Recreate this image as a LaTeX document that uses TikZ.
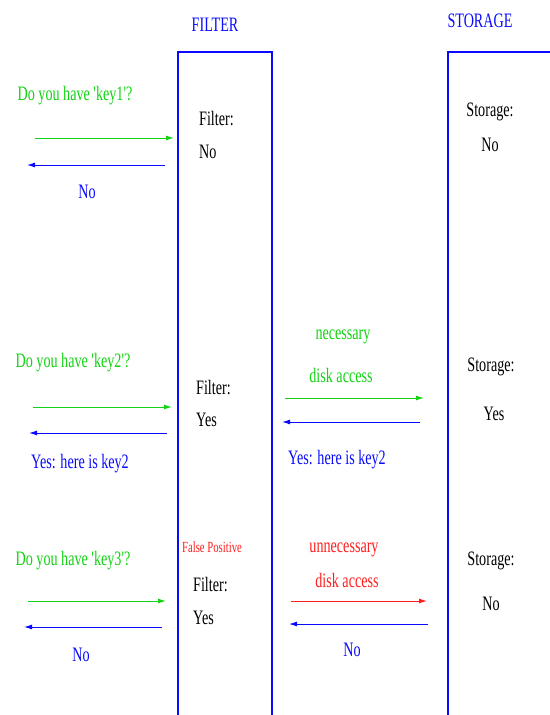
\documentclass[tikz,border=0pt]{standalone}
\usepackage{fontspec}
\setmainfont[FakeStretch=0.69, Ligatures=TeXOff]{Liberation Serif}
\usetikzlibrary{arrows.meta}
\definecolor{cgreen}{RGB}{20,210,20}
\definecolor{cblue}{RGB}{10,10,255}
\definecolor{cred}{RGB}{255,30,30}
\tikzset{
  txt/.style={inner sep=0pt, yshift=-2pt, font=\fontsize{20.5}{20.5}\selectfont},
  gtxt/.style={txt, text=cgreen},
  btxt/.style={txt, text=cblue},
  rtxt/.style={txt, text=cred},
  ktxt/.style={txt, text=black},
  col/.style={draw=cblue, line width=2.4pt},
  msg/.style={line width=1pt, -{Latex[length=8pt,width=5pt]}},
}
\begin{document}
\begin{tikzpicture}[x=1pt,y=-1pt]
\useasboundingbox (0,0) rectangle (549,715);
% columns
\draw[col] (178,716) -- (178,52) -- (272,52) -- (272,716);
\draw[col] (448,716) -- (448,52) -- (550,52);
\node[btxt] (hf) at (215,23) {FILTER};
\node[btxt] (hs) at (480,19) {STORAGE};

% row 1
\node[gtxt] (q1) at (75,94) {Do you have 'key1'?};
\coordinate (q1a) at (35,138); \coordinate (q1b) at (174,138);
\draw[msg, cgreen] (q1a) -- (q1b);
\coordinate (r1a) at (165,165); \coordinate (r1b) at (27,165);
\draw[msg, cblue] (r1a) -- (r1b);
\node[btxt] (n1) at (87,190) {No};
\node[ktxt, anchor=west] (f1) at (199,117) {Filter:};
\node[ktxt, anchor=west] (f1v) at (199,150) {No};
\node[ktxt] (s1) at (490,110) {Storage:};
\node[ktxt] (s1v) at (490,143) {No};

% row 2
\node[gtxt] (q2) at (73,361) {Do you have 'key2'?};
\coordinate (q2a) at (33,407); \coordinate (q2b) at (172,407);
\draw[msg, cgreen] (q2a) -- (q2b);
\coordinate (r2a) at (167,433); \coordinate (r2b) at (29,433);
\draw[msg, cblue] (r2a) -- (r2b);
\node[btxt] (y2) at (80,462) {Yes: here is key2};
\node[ktxt, anchor=west] (f2) at (196,386) {Filter:};
\node[ktxt, anchor=west] (f2v) at (196,418) {Yes};
\node[gtxt] (nd) at (343,335) {necessary};
\node[gtxt] (nd2) at (341,373) {disk access};
\coordinate (d2a) at (285,398); \coordinate (d2b) at (424,398);
\draw[msg, cgreen] (d2a) -- (d2b);
\coordinate (e2a) at (420,422); \coordinate (e2b) at (282,422);
\draw[msg, cblue] (e2a) -- (e2b);
\node[btxt] (y2b) at (337,458) {Yes: here is key2};
\node[ktxt] (s2) at (491,365) {Storage:};
\node[ktxt] (s2v) at (494,412) {Yes};

% row 3
\node[rtxt, font=\fontsize{15.5}{15.5}\selectfont] (fp) at (212,545) {False Positive};
\node[gtxt] (q3) at (73,559) {Do you have 'key3'?};
\coordinate (q3a) at (28,601); \coordinate (q3b) at (166,601);
\draw[msg, cgreen] (q3a) -- (q3b);
\coordinate (r3a) at (162,627); \coordinate (r3b) at (24,627);
\draw[msg, cblue] (r3a) -- (r3b);
\node[btxt] (n3) at (81,653) {No};
\node[ktxt, anchor=west] (f3) at (193,583) {Filter:};
\node[ktxt, anchor=west] (f3v) at (193,616) {Yes};
\node[rtxt] (ud) at (344,548) {unnecessary};
\node[rtxt] (ud2) at (347,578) {disk access};
\coordinate (d3a) at (291,601); \coordinate (d3b) at (427,601);
\draw[msg, cred] (d3a) -- (d3b);
\coordinate (e3a) at (428,624); \coordinate (e3b) at (289,624);
\draw[msg, cblue] (e3a) -- (e3b);
\node[btxt] (n3b) at (352,648) {No};
\node[ktxt] (s3) at (491,559) {Storage:};
\node[ktxt] (s3v) at (491,602) {No};
\end{tikzpicture}
\end{document}
